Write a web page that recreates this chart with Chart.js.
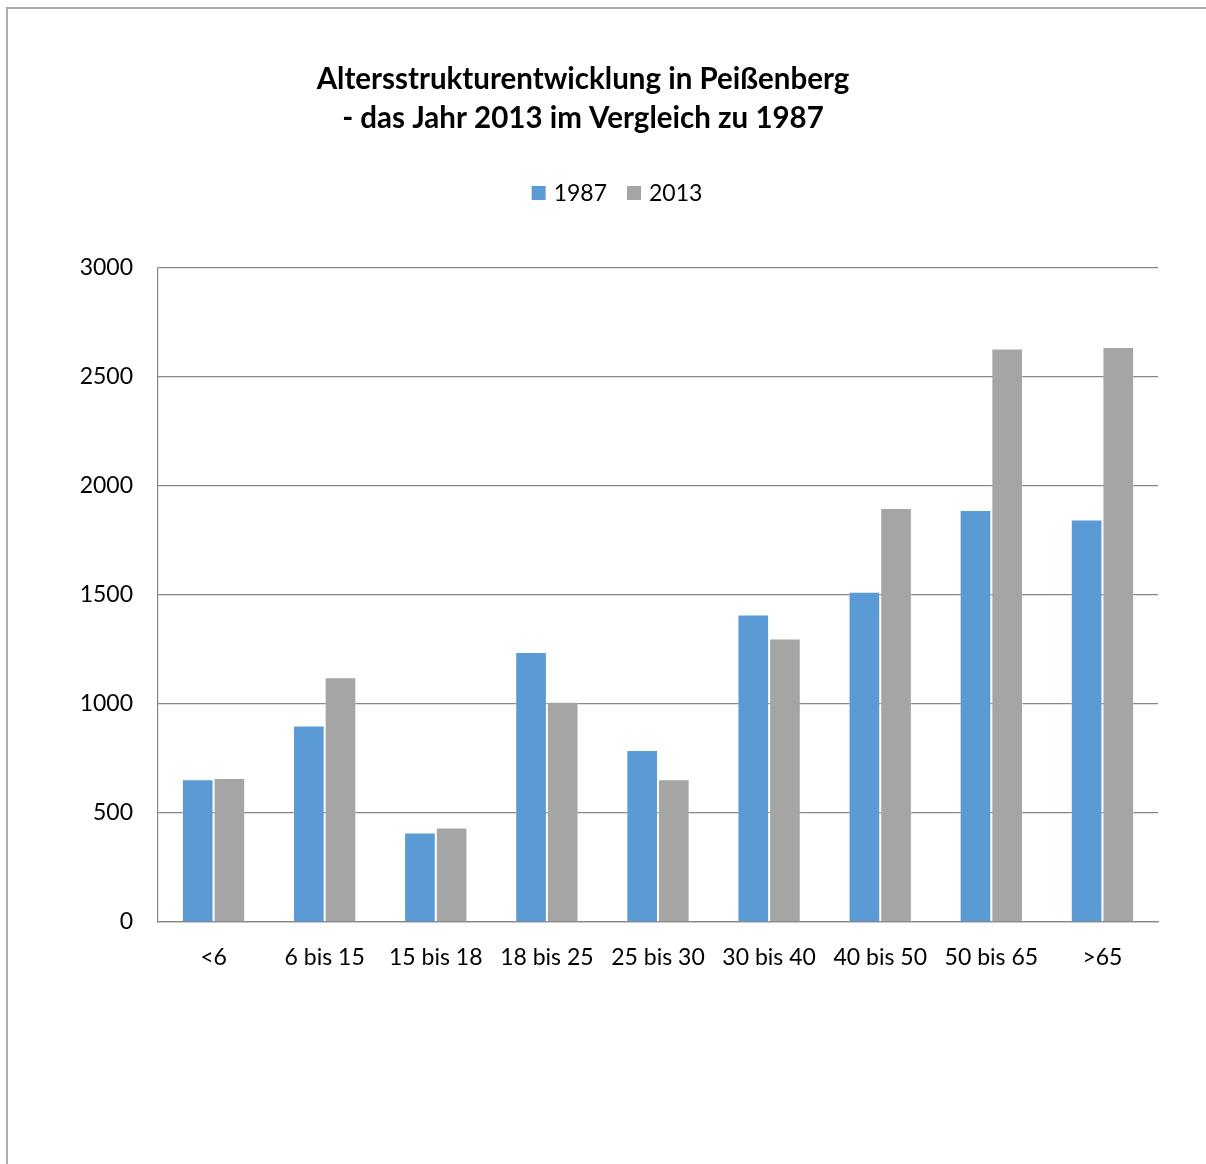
<!DOCTYPE html>
<html>
<head>
<meta charset="utf-8">
<script src="https://cdn.jsdelivr.net/npm/chart.js@4.4.0/dist/chart.umd.min.js"></script>
<style>
  body { margin: 0; background: #fff; overflow: hidden; }
  #frame { position: absolute; left: 6px; top: 7px; width: 1400px; height: 1400px;
           border-left: 2px solid #adadad; border-top: 2px solid #adadad; }
  #myChart { position: absolute; left: 0; top: 0; }
</style>
</head>
<body>
<div id="frame"></div>
<canvas id="myChart" width="1206" height="1164"></canvas>
<script>

var categories = ['<6', '6 bis 15', '15 bis 18', '18 bis 25', '25 bis 30', '30 bis 40', '40 bis 50', '50 bis 65', '>65'];
var series1987 = [655, 901, 411, 1239, 789, 1411, 1515, 1890, 1846];
var series2013 = [660, 1123, 433, 1010, 655, 1301, 1899, 2631, 2638];
var seriesNames = ['1987', '2013'];
var titleLines = ['Altersstrukturentwicklung in Peißenberg', '- das Jahr 2013 im Vergleich zu 1987'];

var FONT = 'Lato, Calibri, "Open Sans", sans-serif';

// legend drawn by hand so it sits where the original one is
var legendPlugin = {
  id: 'handLegend',
  afterDraw: function(chart) {
    var ctx = chart.ctx;
    ctx.save();
    ctx.font = '23px ' + FONT;
    ctx.textBaseline = 'middle';
    ctx.fillStyle = '#000';
    var ds = chart.data.datasets;
    var box = 14, gap = 8, spacing = 20;
    var total = 0;
    for (var i = 0; i < ds.length; i++) {
      total += box + gap + ctx.measureText(ds[i].label).width;
      if (i < ds.length - 1) total += spacing;
    }
    var x = 617 - total / 2, y = 193;
    for (var i = 0; i < ds.length; i++) {
      ctx.fillStyle = ds[i].backgroundColor;
      ctx.fillRect(x, y - box / 2, box, box);
      x += box + gap;
      ctx.fillStyle = '#000';
      ctx.fillText(ds[i].label, x, y + 1);
      x += ctx.measureText(ds[i].label).width + spacing;
    }
    ctx.restore();
  }
};

var ctx = document.getElementById('myChart').getContext('2d');

var chart = new Chart(ctx, {
    type: 'bar',
    data: {
        labels: categories,
        datasets: [{
            label: seriesNames[0],
            data: series1987,
            backgroundColor: '#5B9BD5',
            borderColor: 'rgba(255,255,255,0.3)',
            borderWidth: 1
        }, {
            label: seriesNames[1],
            data: series2013,
            backgroundColor: '#A5A5A5',
            borderColor: 'rgba(255,255,255,0.3)',
            borderWidth: 1
        }]
    },
    options: {
        responsive: false,
        devicePixelRatio: 1,
        animation: false,
        layout: { padding: { left: 8, right: 48, top: 0, bottom: 0 } },
        datasets: { bar: { categoryPercentage: 0.57, barPercentage: 1.0 } },
        plugins: {
            legend: { display: false },
            tooltip: { enabled: false },
            title: {
                display: true,
                text: titleLines,
                color: '#000',
                font: { family: FONT, size: 29.5, weight: 'bold', lineHeight: 39 / 29.5 },
                padding: { top: 60, bottom: 130 }
            }
        },
        scales: {
            x: {
                grid: { display: false, drawTicks: false },
                border: { display: true, color: '#868686', width: 1.2 },
                ticks: { color: '#000', font: { family: FONT, size: 23 }, padding: 22, maxRotation: 0, autoSkip: false },
                afterFit: function(scale) { scale.height = 242; }
            },
            y: {
                min: 0,
                max: 3000,
                grid: { color: '#868686', lineWidth: 1.2, drawTicks: false },
                border: { display: true, color: '#868686', width: 1.2 },
                ticks: {
                    stepSize: 500, color: '#000', font: { family: FONT, size: 23 }, padding: 25,
                    callback: function(value) { return String(value); }
                },
                afterFit: function(scale) { scale.width = 150; }
            }
        }
    },
    plugins: [legendPlugin]
});

</script>
</body>
</html>
